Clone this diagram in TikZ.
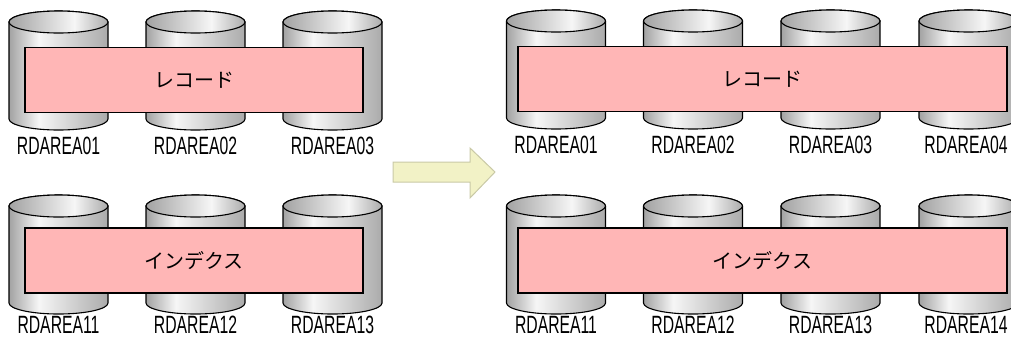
\documentclass[tikz,border=0pt]{standalone}
\usepackage{fontspec}
\setmainfont{Liberation Sans}
\newfontfamily\jpfont{Noto Sans CJK JP}
\definecolor{cylD}{HTML}{A2A2A2}
\definecolor{cylL}{HTML}{F6F6F6}
\definecolor{cylR}{HTML}{ABABAB}
\definecolor{bandpink}{HTML}{FFB6B6}
\definecolor{arrowfill}{HTML}{F2F2C6}
\definecolor{arrowline}{HTML}{C9C9A6}
\pgfdeclarehorizontalshading{cylbodyshade}{100bp}{color(0bp)=(cylD); color(25bp)=(cylD); color(40bp)=(cylL); color(75bp)=(cylR); color(100bp)=(cylR)}
\pgfdeclarehorizontalshading{cyltopshade}{100bp}{color(0bp)=(cylD); color(25bp)=(cylD); color(58bp)=(cylL); color(75bp)=(cylR); color(100bp)=(cylR)}
\begin{document}
\begin{tikzpicture}[x=1pt,y=1pt,
  cylbody/.style={draw=black,line width=1.1pt,shading=cylbodyshade},
  cyltop/.style={draw=black,line width=1.1pt,shading=cyltopshade},
  band/.style={draw=black,line width=1.1pt,fill=bandpink,minimum height=65pt,inner sep=0pt,font=\jpfont\fontsize{20}{24}\selectfont},
  lbl/.style={font=\fontsize{25}{30}\selectfont,xscale=0.63,inner sep=0pt},
  bigarrow/.style={draw=arrowline,line width=1pt,fill=arrowfill,line join=miter}]
\useasboundingbox (0,0) rectangle (1011,-338);
% cylinders
\foreach \cx/\ty in {58.5/22,195.5/22,332.5/22,556/21,693/21,830.5/21,968.5/21,
                     58.5/206,195.5/206,332.5/206,556/206,693/206,830.5/206,968.5/206}{
  \path[cylbody] (\cx-49.5,-\ty) -- (\cx-49.5,-\ty-97)
     arc[start angle=180,end angle=360,x radius=49.5,y radius=11]
     -- (\cx+49.5,-\ty)
     arc[start angle=0,end angle=180,x radius=49.5,y radius=11] -- cycle;
  \path[cyltop] (\cx,-\ty) ellipse[x radius=49.5,y radius=11];
}
% bands
\node[band,minimum width=338pt] (rec1) at (194,-80) {レコード};
\node[band,minimum width=338pt] (idx1) at (194,-260.5) {インデクス};
\node[band,minimum width=489pt] (rec2) at (762.5,-79) {レコード};
\node[band,minimum width=489pt] (idx2) at (762.5,-260.5) {インデクス};
% labels
\node[lbl] (a01) at (58.5,-146) {RDAREA01};
\node[lbl] (a02) at (195.5,-146) {RDAREA02};
\node[lbl] (a03) at (332.5,-146) {RDAREA03};
\node[lbl] (a11) at (58.5,-325) {RDAREA11};
\node[lbl] (a12) at (195.5,-325) {RDAREA12};
\node[lbl] (a13) at (332.5,-325) {RDAREA13};
\node[lbl] (b01) at (556,-145) {RDAREA01};
\node[lbl] (b02) at (693,-145) {RDAREA02};
\node[lbl] (b03) at (830.5,-145) {RDAREA03};
\node[lbl] (b04) at (966,-145) {RDAREA04};
\node[lbl] (b11) at (556,-325) {RDAREA11};
\node[lbl] (b12) at (693,-325) {RDAREA12};
\node[lbl] (b13) at (830.5,-325) {RDAREA13};
\node[lbl] (b14) at (966,-325) {RDAREA14};
% arrow
\path[bigarrow] (393,-162) -- (470,-162) -- (470,-148) -- (495,-172)
   -- (470,-198) -- (470,-182) -- (393,-182) -- cycle;
\end{tikzpicture}
\end{document}
